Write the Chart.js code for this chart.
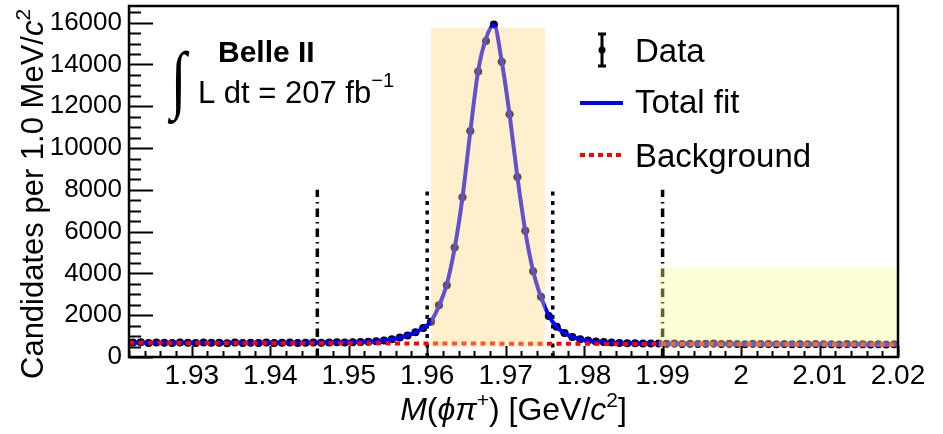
<!DOCTYPE html>
<html>
<head>
<meta charset="utf-8">
<script src="https://cdn.jsdelivr.net/npm/chart.js@4.4.0/dist/chart.umd.min.js"></script>
<style>
html, body { margin: 0; padding: 0; background: #fff; }
canvas { display: block; }
</style>
</head>
<body>
<canvas id="massChart" width="943" height="434"></canvas>
<script>
'use strict';

// M(phi pi+) histogram, 1 MeV/c^2 bins, bin centres in GeV/c^2
let massBins = [
  1.9225, 1.9235, 1.9245, 1.9255, 1.9265, 1.9275, 1.9285, 1.9295, 1.9305, 1.9315,
  1.9325, 1.9335, 1.9345, 1.9355, 1.9365, 1.9375, 1.9385, 1.9395, 1.9405, 1.9415,
  1.9425, 1.9435, 1.9445, 1.9455, 1.9465, 1.9475, 1.9485, 1.9495, 1.9505, 1.9515,
  1.9525, 1.9535, 1.9545, 1.9555, 1.9565, 1.9575, 1.9585, 1.9595, 1.9605, 1.9615,
  1.9625, 1.9635, 1.9645, 1.9655, 1.9665, 1.9675, 1.9685, 1.9695, 1.9705, 1.9715,
  1.9725, 1.9735, 1.9745, 1.9755, 1.9765, 1.9775, 1.9785, 1.9795, 1.9805, 1.9815,
  1.9825, 1.9835, 1.9845, 1.9855, 1.9865, 1.9875, 1.9885, 1.9895, 1.9905, 1.9915,
  1.9925, 1.9935, 1.9945, 1.9955, 1.9965, 1.9975, 1.9985, 1.9995, 2.0005, 2.0015,
  2.0025, 2.0035, 2.0045, 2.0055, 2.0065, 2.0075, 2.0085, 2.0095, 2.0105, 2.0115,
  2.0125, 2.0135, 2.0145, 2.0155, 2.0165, 2.0175, 2.0185, 2.0195
];

let candidates = [
  690, 702, 676, 695, 688, 671, 699, 684, 668, 692,
  679, 686, 663, 690, 676, 682, 667, 689, 674, 681,
  693, 670, 686, 700, 684, 692, 705, 698, 705, 712,
  728, 752, 790, 850, 930, 1035, 1180, 1390, 1690, 2480,
  3440, 5240, 7650, 10820, 13670, 15130, 15920, 14130, 11620, 8620,
  6040, 4100, 2880, 1960, 1450, 1150, 960, 850, 790, 745,
  712, 693, 672, 664, 655, 650, 641, 648, 636, 645,
  628, 639, 622, 634, 641, 619, 630, 626, 612, 631,
  618, 624, 609, 627, 615, 620, 606, 622, 611, 616,
  603, 619, 608, 612, 598, 615, 604, 609
];

// total fit, sampled at the histogram edges and bin centres
let fitMass = [1.922].concat(massBins, [2.020]);
let fitCounts = [
  684,
  684, 683, 682, 681, 681, 680, 679, 679, 678, 678,
  677, 677, 677, 677, 677, 677, 678, 679, 680, 681,
  683, 685, 688, 691, 695, 699, 705, 711, 718, 728,
  740, 756, 788, 842, 922, 1030, 1178, 1400, 1720, 2440,
  3480, 5210, 7640, 10800, 13700, 15250, 15900, 14150, 11600, 8610,
  6030, 4110, 2870, 1980, 1440, 1140, 960, 850, 782, 738,
  708, 688, 674, 663, 655, 649, 644, 640, 637, 635,
  633, 631, 629, 627, 625, 624, 622, 621, 619, 618,
  616, 615, 614, 612, 611, 610, 608, 607, 606, 605,
  604, 603, 602, 601, 600, 599, 598, 597,
  597
];

// linear background component
let bkgMass = [1.922, 2.020];
let bkgCounts = [680, 597];

let xTicks = [1.93, 1.94, 1.95, 1.96, 1.97, 1.98, 1.99, 2.00, 2.01, 2.02];
let yTicks = [0, 2000, 4000, 6000, 8000, 10000, 12000, 14000, 16000];

// selection lines and shaded regions
let signalCuts = [1.960, 1.976];
let sidebandCuts = [1.946, 1.990];
let cutHeight = 8000;
let signalBand = [1.9605, 1.975, 480, 15770];
let sidebandBand = [1.9895, 2.020, 480, 4300];

let binWidth = 0.001;
let font = '"Liberation Sans", Arial, Helvetica, sans-serif';

function cutLine(xv, dash) {
  return {
    type: 'line',
    data: [{x: xv, y: 0}, {x: xv, y: cutHeight}],
    borderColor: '#000',
    borderWidth: 3.5,
    borderDash: dash,
    pointRadius: 0,
    order: 4
  };
}

// x/y error bars of the data points
const errorBars = {
  id: 'errorBars',
  afterDatasetDraw(chart, args) {
    if (args.index !== 0) return;
    const ctx = chart.ctx, x = chart.scales.x, y = chart.scales.y;
    ctx.save();
    ctx.strokeStyle = '#000';
    ctx.lineWidth = 2;
    massBins.forEach((m, i) => {
      const n = candidates[i], err = Math.sqrt(n);
      const px = x.getPixelForValue(m), py = y.getPixelForValue(n);
      ctx.beginPath();
      ctx.moveTo(x.getPixelForValue(m - binWidth / 2), py);
      ctx.lineTo(x.getPixelForValue(m + binWidth / 2), py);
      ctx.moveTo(px, y.getPixelForValue(n - err));
      ctx.lineTo(px, y.getPixelForValue(n + err));
      ctx.stroke();
    });
    ctx.restore();
  }
};

// draws a run of text pieces (normal / italic / superscript) from x0 along the baseline
function drawPieces(ctx, parts, x0, y0) {
  let cx = x0;
  parts.forEach(p => {
    ctx.font = p.font;
    ctx.fillText(p.t, cx, y0 - (p.up || 0));
    cx += ctx.measureText(p.t).width;
  });
  return cx - x0;
}
function piecesWidth(ctx, parts) {
  let w = 0;
  parts.forEach(p => { ctx.font = p.font; w += ctx.measureText(p.t).width; });
  return w;
}

const decorations = {
  id: 'decorations',
  afterDatasetsDraw(chart) {
    const ctx = chart.ctx, x = chart.scales.x, y = chart.scales.y;
    ctx.save();
    // shaded signal window and upper sideband, laid over the marks
    ctx.fillStyle = 'rgba(255, 212, 120, 0.38)';
    ctx.fillRect(x.getPixelForValue(signalBand[0]), y.getPixelForValue(signalBand[3]),
      x.getPixelForValue(signalBand[1]) - x.getPixelForValue(signalBand[0]),
      y.getPixelForValue(signalBand[2]) - y.getPixelForValue(signalBand[3]));
    ctx.fillStyle = 'rgba(255, 255, 150, 0.38)';
    ctx.fillRect(x.getPixelForValue(sidebandBand[0]), y.getPixelForValue(sidebandBand[3]),
      x.getPixelForValue(sidebandBand[1]) - x.getPixelForValue(sidebandBand[0]),
      y.getPixelForValue(sidebandBand[2]) - y.getPixelForValue(sidebandBand[3]));
    ctx.restore();
  },
  afterDraw(chart) {
    const ctx = chart.ctx, x = chart.scales.x, y = chart.scales.y;
    const a = chart.chartArea;
    ctx.save();
    ctx.strokeStyle = '#000';
    ctx.fillStyle = '#000';

    // inward ticks
    ctx.lineWidth = 2;
    ctx.beginPath();
    for (let v = 0; v <= 16800; v += 500) {
      const py = Math.round(y.getPixelForValue(v)) + 0.5;
      const len = v % 2000 === 0 ? 24 : 12;
      ctx.moveTo(a.left, py);
      ctx.lineTo(a.left + len, py);
    }
    for (let k = 961; k <= 1010; k++) {
      const v = k * 0.002;
      const px = Math.round(x.getPixelForValue(v)) + 0.5;
      const len = k % 5 === 0 ? 11 : 6;
      ctx.moveTo(px, a.bottom);
      ctx.lineTo(px, a.bottom - len);
    }
    ctx.stroke();

    // frame
    ctx.lineWidth = 2.5;
    ctx.strokeRect(a.left, a.top, a.right - a.left, a.bottom - a.top);

    // axis titles
    ctx.textBaseline = 'alphabetic';
    const n32 = '32px ' + font, i32 = 'italic 32px ' + font, s21 = '21px ' + font;
    const xTitle = [
      {t: 'M', font: i32}, {t: '(', font: n32}, {t: '\u03d5\u03c0', font: i32},
      {t: '+', font: s21, up: 13}, {t: ') [GeV/', font: n32}, {t: 'c', font: i32},
      {t: '2', font: s21, up: 13}, {t: ']', font: n32}
    ];
    const xw = piecesWidth(ctx, xTitle);
    drawPieces(ctx, xTitle, (a.left + a.right) / 2 - xw / 2, 420);

    const n31 = '31px ' + font, i31 = 'italic 31px ' + font;
    const yTitle = [
      {t: 'Candidates per 1.0 MeV/', font: n31}, {t: 'c', font: i31},
      {t: '2', font: s21, up: 13}
    ];
    ctx.save();
    ctx.translate(43, 379);
    ctx.rotate(-Math.PI / 2);
    drawPieces(ctx, yTitle, 0, 0);
    ctx.restore();

    // experiment label
    ctx.font = 'bold 30px ' + font;
    ctx.fillText('Belle II', 218, 62);
    drawPieces(ctx, [
      {t: 'L dt = 207 fb', font: '31px ' + font},
      {t: '\u22121', font: '20px ' + font, up: 16}
    ], 198, 103);
    // integral sign stretched over both lines
    ctx.font = '60px "Liberation Serif"';
    const m = ctx.measureText('\u222b');
    const gh = m.actualBoundingBoxAscent + m.actualBoundingBoxDescent;
    const gw = m.actualBoundingBoxLeft + m.actualBoundingBoxRight;
    ctx.save();
    ctx.translate(168, 50);
    ctx.scale(22 / gw, 75 / gh);
    ctx.fillText('\u222b', m.actualBoundingBoxLeft, m.actualBoundingBoxAscent);
    ctx.restore();

    // legend
    ctx.font = '33px ' + font;
    ctx.fillText('Data', 635, 62);
    ctx.fillText('Total fit', 635, 113);
    ctx.fillText('Background', 635, 167);
    ctx.lineWidth = 3;
    ctx.beginPath();
    ctx.moveTo(602, 33); ctx.lineTo(602, 67);
    ctx.moveTo(598, 34); ctx.lineTo(606, 34);
    ctx.moveTo(598, 66); ctx.lineTo(606, 66);
    ctx.stroke();
    ctx.beginPath();
    ctx.arc(602, 50, 3.5, 0, Math.PI * 2);
    ctx.fill();
    ctx.lineWidth = 4;
    ctx.strokeStyle = '#0000ff';
    ctx.beginPath();
    ctx.moveTo(580, 103); ctx.lineTo(623, 103);
    ctx.stroke();
    ctx.strokeStyle = '#ff0000';
    ctx.setLineDash([5, 4]);
    ctx.beginPath();
    ctx.moveTo(580, 155); ctx.lineTo(623, 155);
    ctx.stroke();
    ctx.restore();
  }
};

let chart = new Chart(document.getElementById('massChart'), {
  type: 'scatter',
  data: {
    datasets: [
      {
        label: 'Data',
        data: massBins.map((m, i) => ({x: m, y: candidates[i]})),
        pointRadius: 4,
        pointBackgroundColor: '#000',
        pointBorderWidth: 0,
        showLine: false,
        order: 5
      },
      cutLine(sidebandCuts[0], [8.5, 5, 1.5, 5]),
      cutLine(sidebandCuts[1], [8.5, 5, 1.5, 5]),
      cutLine(signalCuts[0], [4, 5.5]),
      cutLine(signalCuts[1], [4, 5.5]),
      {
        type: 'line',
        label: 'Total fit',
        data: fitMass.map((m, i) => ({x: m, y: fitCounts[i]})),
        borderColor: '#0000ff',
        borderWidth: 4,
        pointRadius: 0,
        cubicInterpolationMode: 'monotone',
        order: 2
      },
      {
        type: 'line',
        label: 'Background',
        data: bkgMass.map((m, i) => ({x: m, y: bkgCounts[i]})),
        borderColor: '#ff0000',
        borderWidth: 4,
        borderDash: [5, 4.5],
        pointRadius: 0,
        order: 1
      }
    ]
  },
  options: {
    responsive: false,
    animation: false,
    devicePixelRatio: 1,
    layout: {padding: {top: 6, right: 45, left: 0, bottom: 0}},
    plugins: {legend: {display: false}, tooltip: {enabled: false}},
    scales: {
      x: {
        type: 'linear',
        min: 1.922,
        max: 2.020,
        afterBuildTicks: s => { s.ticks = xTicks.map(v => ({value: v})); },
        afterFit: s => { s.height = 77; s.paddingLeft = 0; s.paddingRight = 0; },
        grid: {display: false},
        border: {display: false},
        ticks: {
          autoSkip: false,
          maxRotation: 0,
          padding: -6,
          color: '#000',
          font: {family: font, size: 28},
          callback: v => String(+v.toFixed(2))
        }
      },
      y: {
        min: 0,
        max: 16800,
        afterBuildTicks: s => { s.ticks = yTicks.map(v => ({value: v})); },
        afterFit: s => { s.width = 129; s.paddingTop = 0; s.paddingBottom = 0; },
        grid: {display: false},
        border: {display: false},
        ticks: {
          padding: -1,
          color: '#000',
          font: {family: font, size: 26},
          callback: v => String(v)
        }
      }
    }
  },
  plugins: [errorBars, decorations]
});
</script>
</body>
</html>
